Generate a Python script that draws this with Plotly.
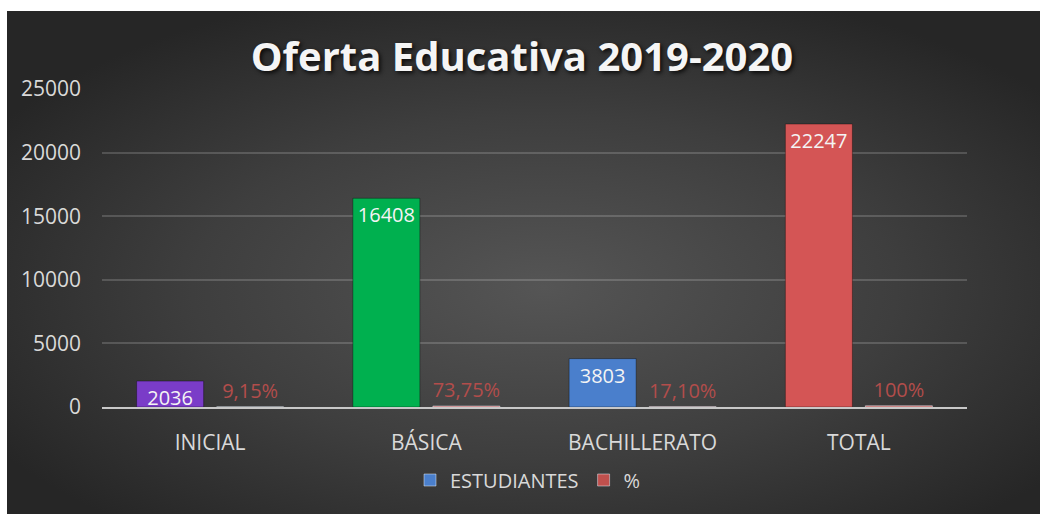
import base64
import plotly.graph_objects as go

# ---- data ----
categories = ["INICIAL", "BÁSICA", "BACHILLERATO", "TOTAL"]
estudiantes = [2036, 16408, 3803, 22247]
porcentaje = [9.15, 73.75, 17.10, 100]
pct_labels = ["9,15%", "73,75%", "17,10%", "100%"]
bar_colors = ["#7a3cc8", "#00b04f", "#4a7fcc", "#d45555"]
y_ticks = [0, 5000, 10000, 15000, 20000, 25000]

W, H = 1040, 514
ML, MR, MT, MB = 102, 73, 89, 107
pw, ph = W - ML - MR, H - MT - MB

fig = go.Figure()

fig.add_trace(go.Bar(
    x=categories, y=estudiantes, name="ESTUDIANTES", offsetgroup="1",
    marker=dict(color=bar_colors, line=dict(color="rgba(0,0,0,0.35)", width=1)),
    text=[str(v) for v in estudiantes], textposition="inside", insidetextanchor="end",
    constraintext="none", textangle=0,
    textfont=dict(family="Open Sans", size=20, color="#f4f4f4"),
    showlegend=False, cliponaxis=False,
))
fig.add_trace(go.Bar(
    x=categories, y=porcentaje, name="%", offsetgroup="2",
    marker=dict(color="#c0504d"),
    text=pct_labels, textposition="outside", constraintext="none", textangle=0,
    textfont=dict(family="Open Sans", size=20, color="#b24d4b"),
    showlegend=False, cliponaxis=False,
))
# legend entries
fig.add_trace(go.Bar(x=[None], y=[None], name="ESTUDIANTES", offsetgroup="1",
                     marker=dict(color="#4a7fcc")))
fig.add_trace(go.Bar(x=[None], y=[None], name="%", offsetgroup="2",
                     marker=dict(color="#c0504d")))

# background gradient panel
svg = ('<svg xmlns="http://www.w3.org/2000/svg" width="1033" height="503" viewBox="0 0 1033 503" '
       'preserveAspectRatio="none"><defs><radialGradient id="g" cx="0.52" cy="0.55" r="0.62">'
       '<stop offset="0" stop-color="#555555"/><stop offset="0.55" stop-color="#3e3e3e"/>'
       '<stop offset="1" stop-color="#262626"/></radialGradient></defs>'
       '<rect width="1033" height="503" fill="url(#g)"/></svg>')
src = "data:image/svg+xml;base64," + base64.b64encode(svg.encode()).decode()
px0, px1, py0, py1 = 7, 1040, 11, 514
img_x0 = (px0 - ML) / pw
img_x1 = (px1 - ML) / pw
img_ytop = (H - MB - py0) / ph
img_ybot = (H - MB - py1) / ph

fig.update_layout(
    width=W, height=H,
    margin=dict(l=ML, r=MR, t=MT, b=MB, autoexpand=False),
    paper_bgcolor="#ffffff",
    plot_bgcolor="rgba(0,0,0,0)",
    barmode="group", bargap=0.26, bargroupgap=0.1625,
    images=[dict(source=src, xref="paper", yref="paper", x=img_x0, y=img_ytop,
                 sizex=img_x1 - img_x0, sizey=img_ytop - img_ybot,
                 xanchor="left", yanchor="top", sizing="stretch", layer="below")],
    title=dict(text="<b>Oferta Educativa 2019-2020</b>", x=522 / W, xanchor="center",
               y=1 - 57 / H, yanchor="middle", yref="container",
               font=dict(family="Open Sans", size=40, color="#f5f5f5",
                         shadow="2px 2px 4px rgba(0,0,0,0.8)")),
    font=dict(family="Open Sans", color="#d9d9d9"),
    legend=dict(orientation="h", x=(528 - ML) / pw, xanchor="center",
                y=(H - MB - 480) / ph, yanchor="middle",
                font=dict(size=20, color="#d9d9d9"), bgcolor="rgba(0,0,0,0)",
                itemwidth=30, traceorder="normal"),
    yaxis=dict(range=[0, 25000], tickvals=y_ticks, ticktext=[str(v) for v in y_ticks],
               showgrid=True, gridcolor="rgba(255,255,255,0.17)", gridwidth=1.5,
               zeroline=False, showline=False, automargin=False,
               tickfont=dict(size=21, color="#d9d9d9"), ticklabelstandoff=20),
    xaxis=dict(showline=True, linecolor="#c8c8c8", linewidth=2, automargin=False,
               tickangle=0,
               tickfont=dict(size=21, color="#d9d9d9"), ticklabelstandoff=16,
               showgrid=False),
)

fig.write_html("out.html", config={"displayModeBar": False},
               post_script="document.body.style.margin='0';document.body.style.overflow='hidden';")
